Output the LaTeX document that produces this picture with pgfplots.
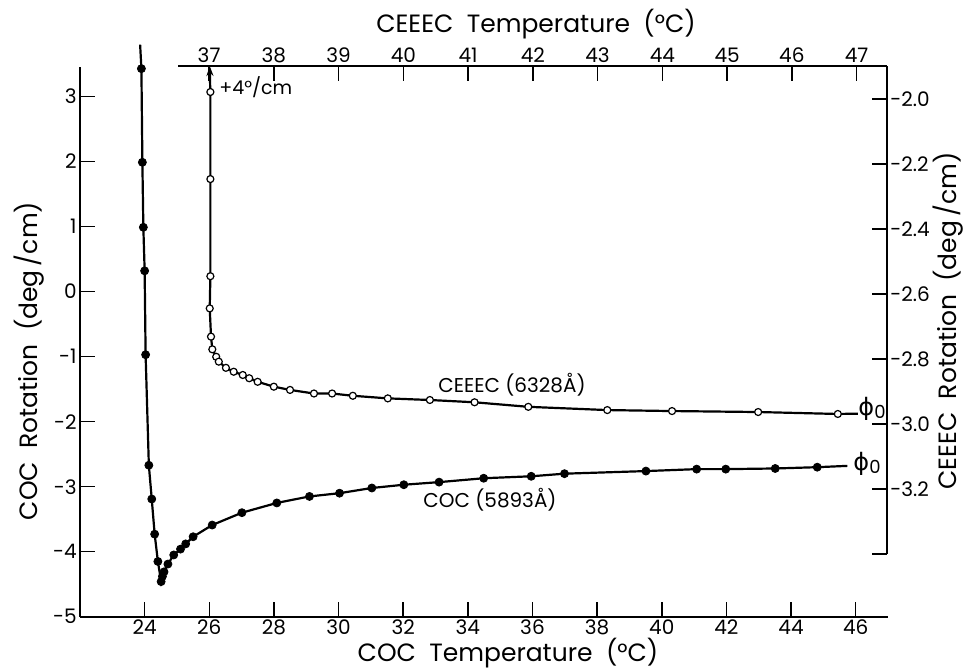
\documentclass[border=0pt]{standalone}
\usepackage{pgfplots}
\pgfplotsset{compat=1.18}
\usetikzlibrary{arrows.meta}
\usepackage{fontspec}
\setmainfont{Poppins}
\newfontfamily\dejavu{DejaVu Sans}

\pgfplotsset{myax/.style={
  scale only axis,
  tick align=inside,
  major tick length=7.5pt,
  every tick/.style={black, line width=0.75pt},
  axis line style={black, line width=0.8pt},
  /pgf/number format/assume math mode=true,
  ticklabel style={font=\fontsize{10}{12}\selectfont, inner sep=1.5pt},
  clip=false,
  minor tick num=0,
}}
\newcommand{\phizero}{{\dejavu\fontsize{12}{14}\selectfont ϕ}\raisebox{-1.5pt}{\fontsize{9}{10}\selectfont 0}}

\begin{document}
\begin{tikzpicture}
\useasboundingbox (0,0) rectangle (483.5pt,335.5pt);

% ---------- COC axis (bottom / left) ----------
\begin{axis}[myax,
  at={(40pt,27.15pt)}, anchor=south west,
  width=404pt, height=275pt,
  xmin=22, xmax=47, ymin=-5, ymax=3.46,
  axis x line*=bottom, axis y line*=left,
  xtick={24,26,...,46}, ytick={-5,-4,...,3},
]
\addplot[black, line width=1.1pt] coordinates {
(23.86,3.80) (23.90,3.43) (23.93,1.99) (23.96,0.99) (24.00,0.32) (24.03,-0.97)
(24.13,-2.67) (24.22,-3.19) (24.31,-3.73) (24.41,-4.15) (24.51,-4.46)
(24.55,-4.38) (24.60,-4.31) (24.72,-4.19) (24.90,-4.05) (25.11,-3.96)
(25.27,-3.88) (25.50,-3.77) (26.09,-3.59) (27.01,-3.40) (28.09,-3.25)
(29.10,-3.15) (30.03,-3.10) (31.03,-3.02) (32.02,-2.97) (33.11,-2.93)
(34.49,-2.87) (35.96,-2.84) (36.99,-2.80) (39.51,-2.76) (41.08,-2.73)
(41.98,-2.73) (43.51,-2.72) (44.81,-2.70) (45.74,-2.68)};
\addplot[only marks, mark=*, mark size=2pt, mark options={fill=black, draw=black}] coordinates {
(23.90,3.43) (23.93,1.99) (23.96,0.99) (24.00,0.32) (24.03,-0.97)
(24.13,-2.67) (24.22,-3.19) (24.31,-3.73) (24.41,-4.15) (24.51,-4.46)
(24.55,-4.38) (24.60,-4.31) (24.72,-4.19) (24.90,-4.05) (25.11,-3.96)
(25.27,-3.88) (25.50,-3.77) (26.09,-3.59) (27.01,-3.40) (28.09,-3.25)
(29.10,-3.15) (30.03,-3.10) (31.03,-3.02) (32.02,-2.97) (33.11,-2.93)
(34.49,-2.87) (35.96,-2.84) (36.99,-2.80) (39.51,-2.76) (41.08,-2.73)
(41.98,-2.73) (43.51,-2.72) (44.81,-2.70)};
\end{axis}

% ---------- CEEEC axis (top / right) ----------
\begin{axis}[myax,
  at={(89pt,58.5pt)}, anchor=south west,
  width=354.5pt, height=244pt,
  xmin=36.52, xmax=47.47, ymin=-3.4, ymax=-1.898,
  axis x line*=top, axis y line*=right,
  xtick={37,38,...,47},
  ytick={-3.4,-3.2,-3.0,-2.8,-2.6,-2.4,-2.2,-2.0},
  yticklabels={,-3.2,-3.0,-2.8,-2.6,-2.4,-2.2,-2.0},
]
\addplot[black, line width=1.1pt, -{Stealth[length=5pt,width=3.5pt]}] coordinates {(37.02,-1.99) (37.01,-1.898)};
\addplot[black, line width=1.1pt] coordinates {
(37.02,-1.978) (37.02,-2.246) (37.02,-2.545) (37.01,-2.644) (37.03,-2.731)
(37.05,-2.770) (37.11,-2.793) (37.15,-2.808) (37.26,-2.827) (37.38,-2.839)
(37.52,-2.849) (37.62,-2.859) (37.75,-2.870) (38.00,-2.885) (38.25,-2.895)
(38.62,-2.906) (38.90,-2.906) (39.22,-2.913) (39.76,-2.921) (40.41,-2.926)
(41.10,-2.933) (41.93,-2.947) (43.15,-2.957) (44.15,-2.960) (45.48,-2.963)
(46.71,-2.969) (47.02,-2.968)};
\addplot[only marks, mark=*, mark size=1.75pt, mark options={fill=white, draw=black, line width=0.6pt}] coordinates {
(37.02,-1.978) (37.02,-2.246) (37.02,-2.545) (37.01,-2.644) (37.03,-2.731)
(37.05,-2.770) (37.11,-2.793) (37.15,-2.808) (37.26,-2.827) (37.38,-2.839)
(37.52,-2.849) (37.62,-2.859) (37.75,-2.870) (38.00,-2.885) (38.25,-2.895)
(38.62,-2.906) (38.90,-2.906) (39.22,-2.913) (39.76,-2.921) (40.41,-2.926)
(41.10,-2.933) (41.93,-2.947) (43.15,-2.957) (44.15,-2.960) (45.48,-2.963)
(46.71,-2.969)};
\end{axis}

% ---------- labels ----------
\node[font=\fontsize{12.5}{14}\selectfont, inner sep=0pt] at (254pt,9pt) {COC\ \ Temperature\ \ (°C)};
\node[font=\fontsize{12.5}{14}\selectfont, inner sep=0pt] at (268pt,323.5pt) {CEEEC\ \ Temperature\ \ (°C)};
\node[font=\fontsize{12.5}{14}\selectfont, inner sep=0pt, rotate=90] at (14.5pt,155pt) {COC\ \ Rotation\ \ (deg\,/cm)};
\node[font=\fontsize{12.5}{14}\selectfont, inner sep=0pt, rotate=90] at (474pt,175pt) {CEEEC\ \ Rotation\ \ (deg\,/cm)};
\node[font=\fontsize{9.5}{11}\selectfont, inner sep=0pt, anchor=west] at (109.5pt,292pt) {+4°/cm};
\node[font=\fontsize{10}{12}\selectfont, inner sep=0pt] at (256pt,143pt) {CEEEC (6328Å)};
\node[font=\fontsize{10}{12}\selectfont, inner sep=0pt] at (245pt,85.5pt) {COC (5893Å)};
\node[inner sep=0pt] at (436pt,131pt) {\phizero};
\node[inner sep=0pt] at (433.5pt,103.5pt) {\phizero};
\end{tikzpicture}
\end{document}
